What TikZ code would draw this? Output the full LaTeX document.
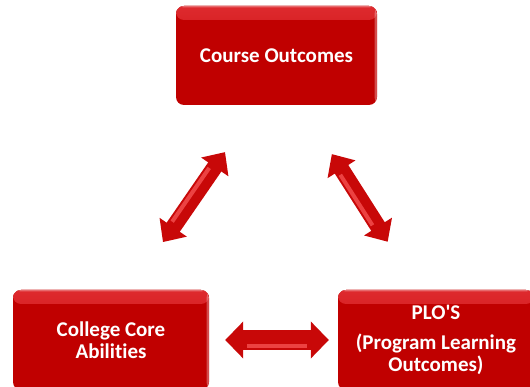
\documentclass[tikz,border=0pt]{standalone}
\usepackage{fontspec}
\setmainfont{Carlito}[Ligatures=NoCommon]
\usetikzlibrary{arrows.meta,calc}
\definecolor{boxRed}{HTML}{C00000}
\definecolor{boxGlow}{HTML}{DE2A2E}
\definecolor{arrowRed}{HTML}{C80808}
\definecolor{arrowGlow}{HTML}{EC4242}

\tikzset{
  outcome/.style={rounded corners=8pt, fill=boxRed, text=white, align=center,
    minimum width=196pt, minimum height=100pt, inner sep=0pt,
    font=\bfseries\fontsize{21}{22}\selectfont,
    path picture={
      \fill[top color=boxGlow, bottom color=boxRed] (path picture bounding box.north west) rectangle ([yshift=-14pt]path picture bounding box.north east);
      \fill[white, opacity=.3] (path picture bounding box.north west) rectangle ([yshift=-1.5pt]path picture bounding box.north east);
      \fill[white, opacity=.3] ([xshift=-2.5pt]path picture bounding box.north east) rectangle (path picture bounding box.south east);
    }},
  link/.style={arrowRed, line width=16pt, {Triangle[length=18pt,width=32pt]}-{Triangle[length=18pt,width=32pt]}},
  widelink/.style={link, line width=20pt, {Triangle[length=18pt,width=36pt]}-{Triangle[length=18pt,width=36pt]}},
  glow/.style={arrowGlow, line width=4pt},
}

\begin{document}
\begin{tikzpicture}[x=1pt,y=-1pt]
  \useasboundingbox (0,0) rectangle (530,387);
  \node[outcome, minimum width=201pt, minimum height=99pt] (course) at (276.5,55.5) {Course Outcomes};
  \node[outcome] (college) at (111,340) {College Core\\Abilities};
  \node[outcome] (plo) at (436,340) {PLO\textquotesingle S\\[8pt](Program Learning\\Outcomes)};

  % where the arrows point on the boxes
  \coordinate (cl) at ($(course.south west)!0.405!(course.south east)$);
  \coordinate (cr) at ($(course.south west)!0.62!(course.south east)$);
  \coordinate (kl) at ($(college.north west)!0.597!(college.north east)$);
  \coordinate (pr) at ($(plo.north west)!0.41!(plo.north east)$);

  \coordinate (a1) at ($(cl)!57pt!(kl)$);
  \coordinate (a2) at ($(kl)!58pt!(cl)$);
  \coordinate (b1) at ($(cr)!58pt!(pr)$);
  \coordinate (b2) at ($(pr)!57pt!(cr)$);
  \coordinate (h1) at ($(college.east)!16pt!(plo.west)$);
  \coordinate (h2) at ($(plo.west)!9pt!(college.east)$);

  \draw[link] (a1) -- (a2);
  \draw[glow] ($(a1)!22pt!(a2)!4pt!-90:(a2)$) -- ($(a2)!22pt!(a1)!4pt!90:(a1)$);
  \draw[link] (b1) -- (b2);
  \draw[glow] ($(b1)!22pt!(b2)!4pt!-90:(b2)$) -- ($(b2)!22pt!(b1)!4pt!90:(b1)$);
  \draw[widelink] (h1) -- (h2);
  \draw[glow] ($(h1)!22pt!(h2)!6pt!-90:(h2)$) -- ($(h2)!22pt!(h1)!6pt!90:(h1)$);
\end{tikzpicture}
\end{document}
